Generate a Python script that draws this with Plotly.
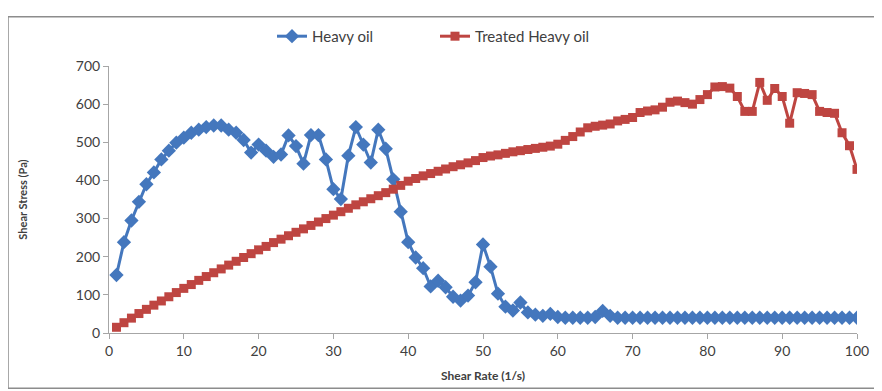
import plotly.graph_objects as go

shear_rate = list(range(1, 101))

heavy_oil = [
    152, 238, 295, 344, 390, 421, 455, 478, 499, 512,
    525, 533, 540, 544, 544, 533, 525, 506, 473, 494,
    478, 462, 468, 518, 490, 444, 519, 519, 455, 377,
    351, 465, 540, 494, 447, 533, 483, 403, 318, 238,
    198, 170, 122, 137, 120, 95, 85, 98, 133, 232,
    174, 103, 69, 59, 80, 54, 48, 45, 50, 42,
    40, 40, 40, 40, 42, 58, 45, 40, 40, 40,
    40, 40, 40, 40, 40, 40, 40, 40, 40, 40,
    40, 40, 40, 40, 40, 40, 40, 40, 40, 40,
    40, 40, 40, 40, 40, 40, 40, 40, 40, 40,
]

treated_heavy_oil = [
    15, 27, 39, 51, 62, 73, 84, 95, 106, 117,
    127, 138, 148, 158, 168, 178, 188, 198, 208, 218,
    227, 237, 246, 255, 264, 273, 282, 291, 300, 309,
    318, 327, 336, 344, 352, 360, 368, 377, 387, 398,
    405, 412, 418, 424, 430, 436, 441, 446, 452, 460,
    464, 467, 471, 475, 478, 481, 484, 487, 490, 495,
    505, 515, 527, 538, 542, 545, 548, 556, 560, 565,
    578, 582, 585, 592, 605, 608, 604, 600, 612, 625,
    645, 646, 642, 620, 581, 581, 657, 610, 641, 620,
    550, 630, 628, 625, 581, 578, 576, 525, 491, 429,
]

x_ticks = [0, 10, 20, 30, 40, 50, 60, 70, 80, 90, 100]
y_ticks = [0, 100, 200, 300, 400, 500, 600, 700]

blue = "#4477BD"
red = "#BE4541"
font_family = "Lato, 'Open Sans', sans-serif"

fig = go.Figure()
fig.add_trace(go.Scatter(
    x=shear_rate, y=heavy_oil, mode="lines+markers", name="Heavy oil",
    line=dict(color=blue, width=3),
    marker=dict(symbol="diamond", size=11, color=blue),
))
fig.add_trace(go.Scatter(
    x=shear_rate, y=treated_heavy_oil, mode="lines+markers", name="Treated Heavy oil",
    line=dict(color=red, width=3),
    marker=dict(symbol="square", size=9, color=red),
))

# page body has an 8px offset; figure coordinates below are in page pixels minus 8
OFF = 8
W, H = 882 - OFF, 391 - OFF
L, T = 109 - OFF, 62 - OFF
plot_right, plot_bottom = 857 - OFF, 333 - OFF
R, B = W - plot_right, H - plot_bottom
pw, ph = plot_right - L, plot_bottom - T

def px_to_paper_x(p):
    return (p - OFF - L) / pw

def px_to_paper_y(p):
    return (plot_bottom - (p - OFF)) / ph

fig.update_layout(
    width=W, height=H,
    margin=dict(l=L, r=R, t=T, b=B),
    paper_bgcolor="white", plot_bgcolor="white",
    font=dict(family=font_family, size=13, color="#404040"),
    showlegend=True,
    legend=dict(
        orientation="h", x=px_to_paper_x(272), y=px_to_paper_y(32),
        xanchor="left", yanchor="middle",
        font=dict(size=15, color="#404040"),
        entrywidth=118, entrywidthmode="pixels",
        bgcolor="rgba(0,0,0,0)",
    ),
    xaxis=dict(
        range=[0, 100], tickmode="array", tickvals=x_ticks,
        ticktext=[str(v) for v in x_ticks],
        showgrid=False, zeroline=False,
        showline=True, linecolor="#A6A6A6", linewidth=1,
        ticks="outside", ticklen=5, tickcolor="#A6A6A6",
        tickfont=dict(size=14, color="#404040"),
        title=dict(text="<b>Shear Rate (1/s)</b>", font=dict(size=12, color="#404040"), standoff=13),
    ),
    yaxis=dict(
        range=[0, 700], tickmode="array", tickvals=y_ticks,
        ticktext=[str(v) for v in y_ticks],
        showgrid=False, zeroline=False,
        showline=True, linecolor="#A6A6A6", linewidth=1,
        ticks="outside", ticklen=5, tickcolor="#A6A6A6",
        tickfont=dict(size=14, color="#404040"),
        title=dict(text="<b>Shear Stress (Pa)</b>", font=dict(size=11, color="#404040"), standoff=45),
    ),
    shapes=[dict(
        type="rect", xref="paper", yref="paper",
        x0=px_to_paper_x(8), x1=px_to_paper_x(879),
        y0=px_to_paper_y(389), y1=px_to_paper_y(12),
        line=dict(color="#8C8C8C", width=1.5), fillcolor="rgba(0,0,0,0)",
        layer="below",
    )],
)

fig.write_html("out.html")
